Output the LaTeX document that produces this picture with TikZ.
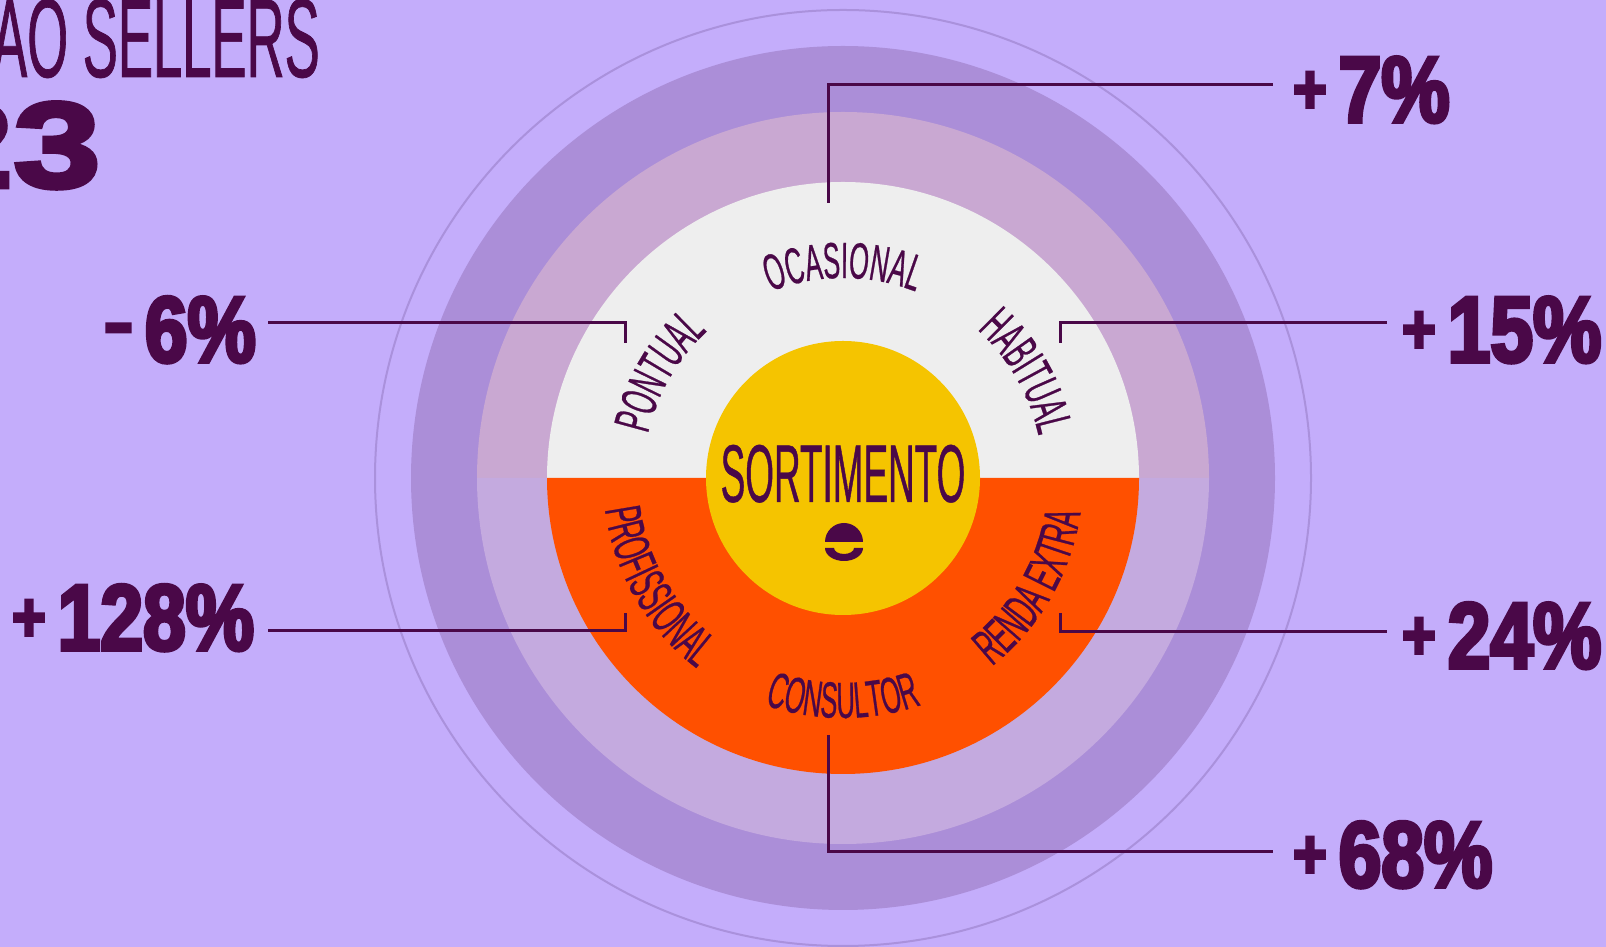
\documentclass[tikz,border=0pt]{standalone}
\usepackage{fontspec}
\usetikzlibrary{decorations.text,calc}
\newfontfamily\thinfam[FakeStretch=0.45,FakeBold=0.5]{Liberation Sans}
\newfontfamily\titlefam[FakeStretch=0.47,FakeBold=0.6]{Liberation Sans}
\newfontfamily\arcfam[FakeStretch=0.5,FakeBold=0.5]{Liberation Sans}
\newfontfamily\heavyfam[FakeStretch=0.82,FakeBold=4]{Liberation Sans}
\newfontfamily\widefam[FakeStretch=1.3,FakeBold=4]{Liberation Sans}
\definecolor{bgc}{HTML}{C4ADFB}
\definecolor{ringline}{HTML}{AA91DC}
\definecolor{ringdark}{HTML}{AB8ED8}
\definecolor{ringtop}{HTML}{C9A8D2}
\definecolor{ringbot}{HTML}{C4AADF}
\definecolor{discw}{HTML}{EEEEEE}
\definecolor{disco}{HTML}{FF5000}
\definecolor{discy}{HTML}{F5C400}
\definecolor{ink}{HTML}{4A0848}
\newcommand\arcfnt{\arcfam\fontsize{51}{51}\selectfont}
\newcommand\numfnt{\heavyfam\bfseries\fontsize{93.6}{93.6}\selectfont}
\newcommand\plusfnt{\heavyfam\bfseries\fontsize{70}{70}\selectfont}
\newcommand\pctlabel[3]{\raisebox{#1}{\plusfnt #2}\hspace{12pt}{\numfnt #3}}
\tikzset{
  leader/.style={draw=ink, line width=3pt, line join=miter},
  pct/.style={anchor=base west, inner sep=0pt, text=ink},
  arctext/.style={decorate, decoration={text along path, text={|\arcfnt|#1}, text align=center, text color=ink}}
}
\begin{document}
\begin{tikzpicture}[x=1pt,y=1pt]
\useasboundingbox (0,0) rectangle (1606,947);
\clip (0,0) rectangle (1606,947);
\fill[bgc] (0,0) rectangle (1606,947);
\coordinate (C) at (843,469);
% rings
\draw[ringline, line width=2pt] (C) circle[radius=468pt];
\fill[ringdark] (C) circle[radius=432pt];
\fill[ringtop] ($(C)+(-366,0)$) arc[start angle=180, end angle=0, radius=366pt] -- cycle;
\fill[ringbot] ($(C)+(-366,0)$) arc[start angle=180, end angle=360, radius=366pt] -- cycle;
\fill[discw] ($(C)+(-296,0)$) arc[start angle=180, end angle=0, radius=296pt] -- cycle;
\fill[disco] ($(C)+(-296,0)$) arc[start angle=180, end angle=360, radius=296pt] -- cycle;
\fill[discy] (C) circle[radius=137pt];
% centre text and logo
\node[anchor=base, inner sep=0pt, text=ink] (sort) at (843,445) {\thinfam\fontsize{82}{82}\selectfont SORTIMENTO};
\fill[ink] (825,405) arc[start angle=180, end angle=0, radius=19pt] -- cycle;
\fill[ink] (825,399) arc[start angle=180, end angle=360, x radius=19pt, y radius=13pt]
  -- (854,399) arc[start angle=0, end angle=-180, x radius=10pt, y radius=6pt] -- cycle;
% arc labels (top: clockwise, bottom: counter-clockwise)
\path[arctext=OCASIONAL] (C) ++(130:200pt) arc[start angle=130, end angle=50, radius=200pt];
\path[arctext=PONTUAL] (C) ++(190:200pt) arc[start angle=190, end angle=110, radius=200pt];
\path[arctext=HABITUAL] (C) ++(70:200pt) arc[start angle=70, end angle=-10, radius=200pt];
\path[arctext=CONSULTOR] (C) ++(230:240pt) arc[start angle=230, end angle=310, radius=240pt];
\path[arctext=PROFISSIONAL] (C) ++(165:240pt) arc[start angle=165, end angle=255, radius=240pt];
\path[arctext={RENDA EXTRA}] (C) ++(285:240pt) arc[start angle=285, end angle=375, radius=240pt];
% title
\node[anchor=base east, inner sep=0pt, text=ink] (title) at (320,870) {\titlefam\fontsize{112}{112}\selectfont AO SELLERS};
\node[anchor=base east, inner sep=0pt, text=ink] (year) at (101,760) {\widefam\bfseries\fontsize{121}{121}\selectfont 23};
% percentage labels
\node[pct] (l7) at (1293,825) {\pctlabel{9pt}{+}{7\%}};
\node[pct] (l15) at (1402,585) {\pctlabel{9pt}{+}{15\%}};
\node[pct] (l6) at (104,585) {\pctlabel{16pt}{\scalebox{1.5}[1]{-}}{6\%}};
\node[pct] (l128) at (12,297) {\pctlabel{9pt}{+}{128\%}};
\node[pct] (l24) at (1402,279) {\pctlabel{9pt}{+}{24\%}};
\node[pct] (l68) at (1293,60) {\pctlabel{9pt}{+}{68\%}};
% leader lines
\coordinate (a7) at (828,744);   \coordinate (b7) at (1273,862);
\coordinate (a6) at (625,604);   \coordinate (b6) at (268,624);
\coordinate (a15) at (1060,604); \coordinate (b15) at (1387,624);
\coordinate (a128) at (625,334); \coordinate (b128) at (268,316);
\coordinate (a24) at (1060,334); \coordinate (b24) at (1387,315);
\coordinate (a68) at (828,212);  \coordinate (b68) at (1273,95);
\draw[leader] (a7) |- (b7);
\draw[leader] (a6) |- (b6);
\draw[leader] (a15) |- (b15);
\draw[leader] (a128) |- (b128);
\draw[leader] (a24) |- (b24);
\draw[leader] (a68) |- (b68);
\end{tikzpicture}
\end{document}
